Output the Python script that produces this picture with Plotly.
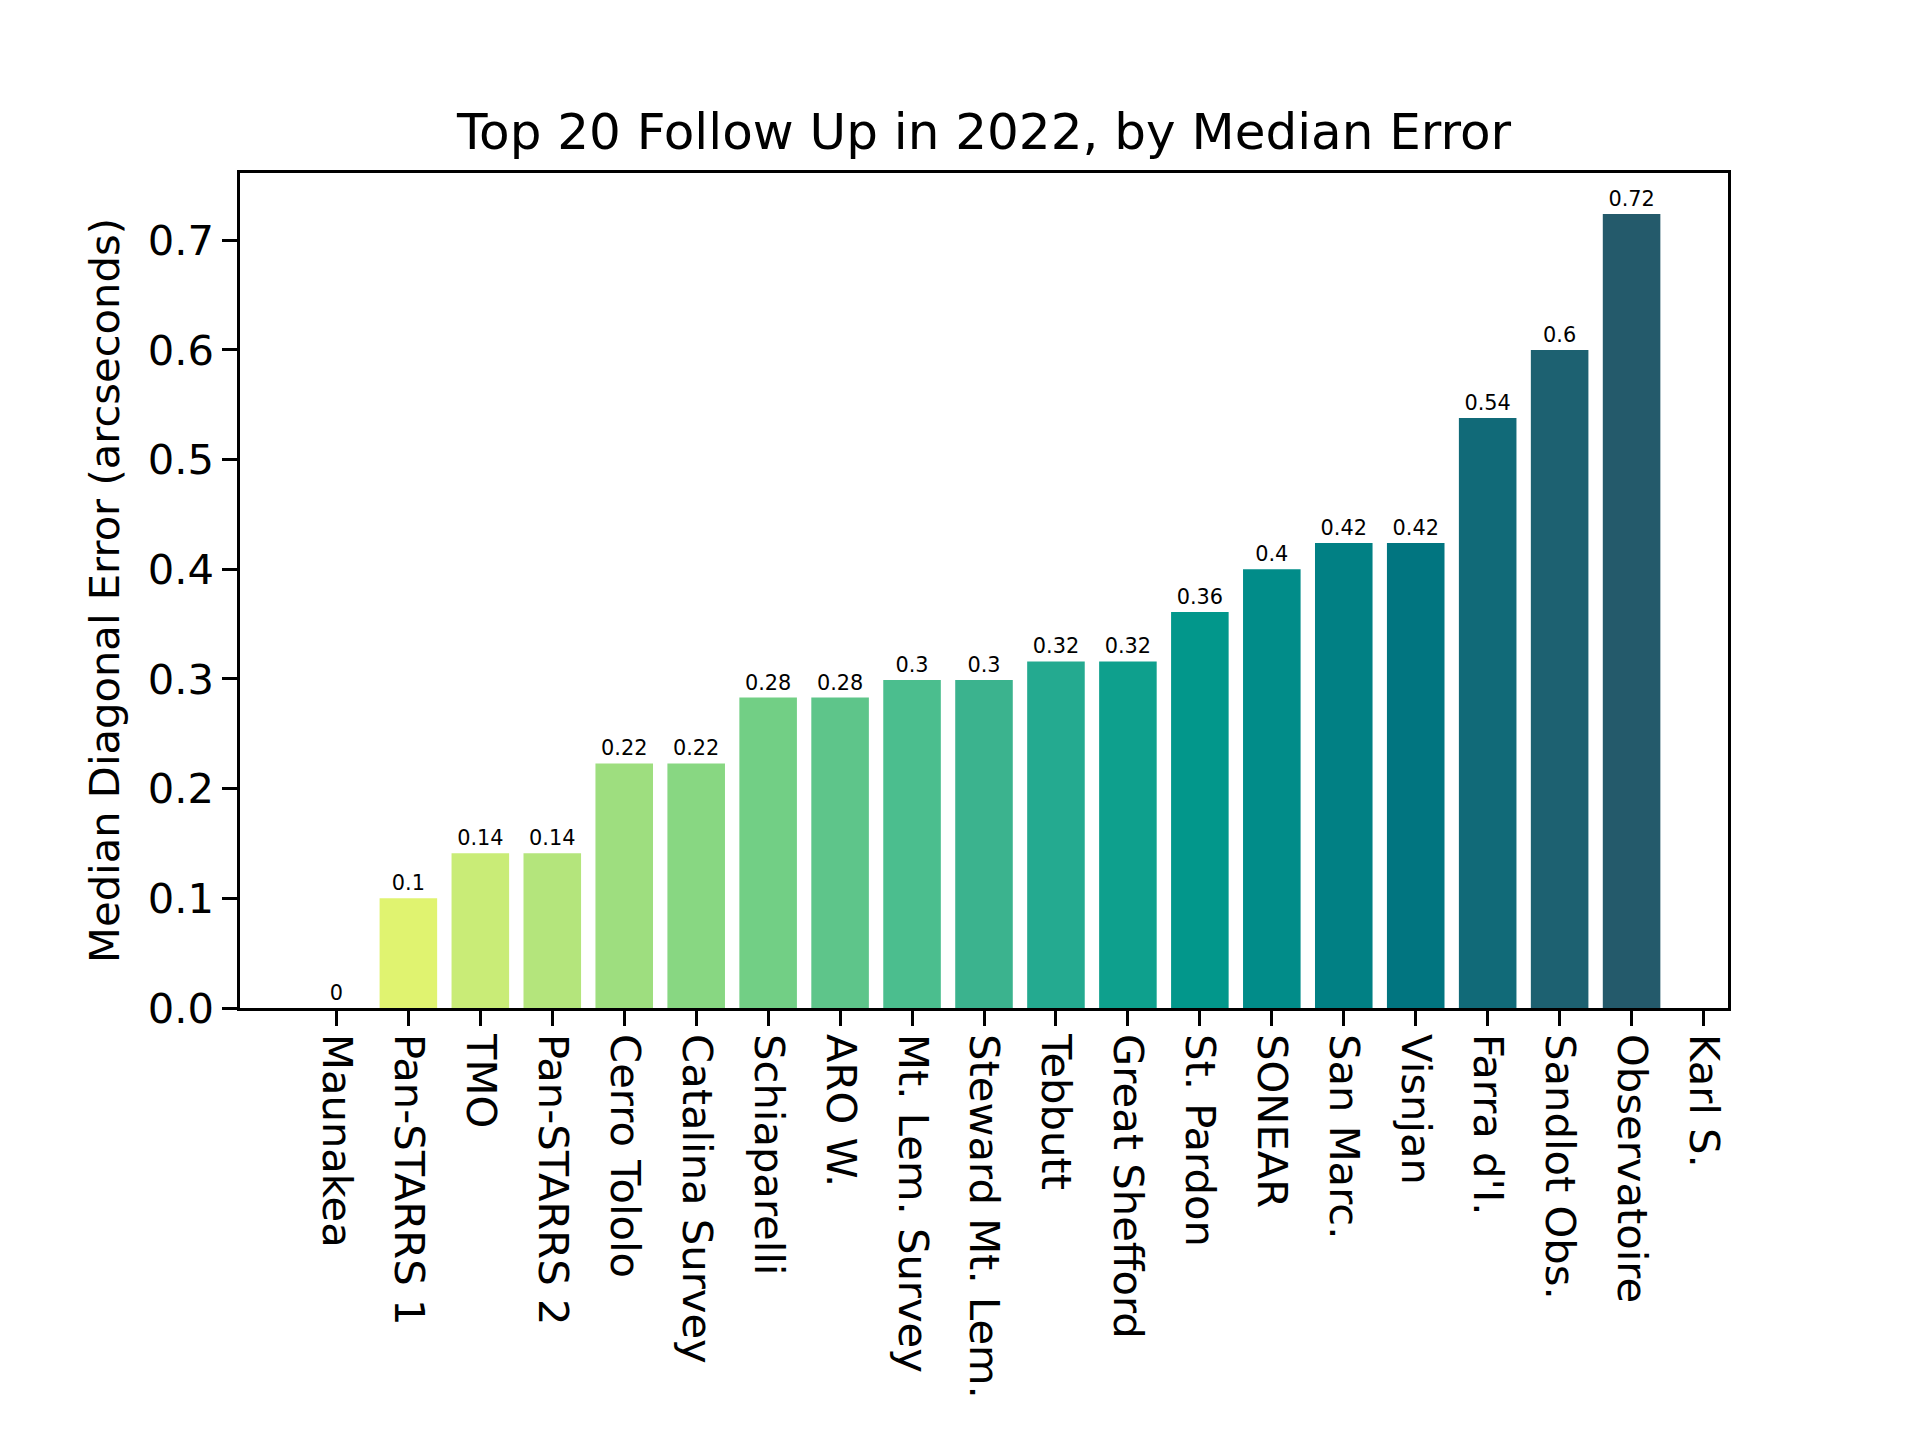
import plotly.graph_objects as go

# observatories, sorted by median error
sites = ["Maunakea", "Pan-STARRS 1", "TMO", "Pan-STARRS 2", "Cerro Tololo",
         "Catalina Survey", "Schiaparelli", "ARO W.", "Mt. Lem. Survey",
         "Steward Mt. Lem.", "Tebbutt", "Great Shefford", "St. Pardon",
         "SONEAR", "San Marc.", "Visnjan", "Farra d'I.", "Sandlot Obs.",
         "Observatoire", "Karl S."]
median_err = [0.0, 0.1, 0.141, 0.141, 0.223, 0.223, 0.283, 0.283, 0.299,
              0.299, 0.316, 0.316, 0.361, 0.4, 0.424, 0.424, 0.538, 0.6,
              0.724, None]
bar_colors = ["#e0f370", "#e0f370", "#c9ec77", "#b4e57c", "#9ede7f", "#88d782",
              "#72cf85", "#5ec58a", "#4bbe8e", "#3bb38e", "#24aa90", "#0ea08d",
              "#02978b", "#018c89", "#018084", "#017580", "#116a78", "#1d6171",
              "#245a6b", "#245a6b"]

labels = ["" if v is None else "{:g}".format(round(v, 2)) for v in median_err]

FONT = "DejaVu Sans"
PT = 300 / 72  # matplotlib points -> px at 300 dpi

fig = go.Figure()
fig.add_trace(go.Bar(
    x=sites, y=median_err, width=0.8,
    marker=dict(color=bar_colors, line=dict(width=0)),
    text=labels, textposition="outside", constraintext="none",
    textfont=dict(family=FONT, size=5 * PT, color="black"),
    cliponaxis=False, showlegend=False,
))

axis_common = dict(
    showline=True, linecolor="black", linewidth=0.8 * PT, mirror=True,
    ticks="outside", ticklen=3.5 * PT, tickwidth=0.8 * PT, tickcolor="black",
    showgrid=False, zeroline=False,
    tickfont=dict(family=FONT, size=10 * PT, color="black"),
)

fig.update_xaxes(axis_common, type="category", range=[-1.34, 19.34],
                 tickangle=90)
fig.update_yaxes(axis_common, range=[0, 0.7613], dtick=0.1, tickformat=".1f",
                 title=dict(text="Median Diagonal Error (arcseconds)",
                            font=dict(family=FONT, size=10 * PT, color="black"),
                            standoff=16))

# page body adds an 8px offset, so the canvas is 8px smaller here
fig.update_layout(
    width=1912, height=1432,
    paper_bgcolor="white", plot_bgcolor="white",
    margin=dict(l=232, r=192, t=165, b=432, autoexpand=False),
    title=dict(text="Top 20 Follow Up in 2022, by Median Error",
               font=dict(family=FONT, size=12 * PT, color="black"),
               x=0.5105, xanchor="center", y=0.914, yanchor="middle"),
)

fig.write_html("out.html")
